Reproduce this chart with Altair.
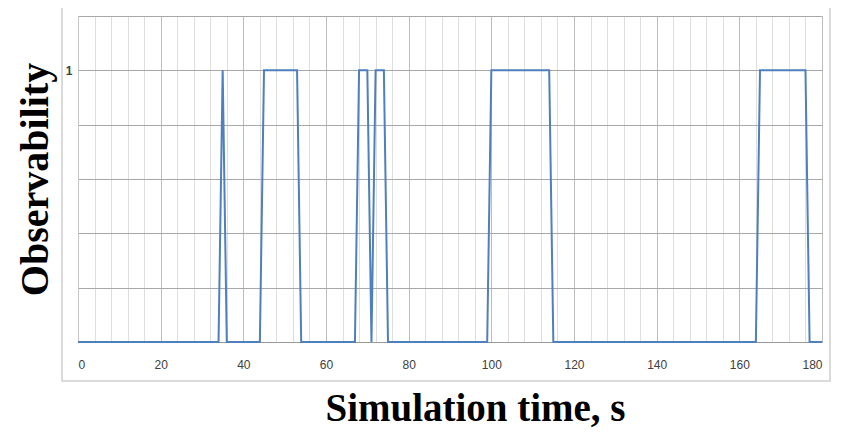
import altair as alt
import pandas as pd

# Data
time_s = [0, 34, 35, 36, 44, 45, 53, 54, 67, 68, 70, 71, 72, 74, 75,
          99, 100, 114, 115, 164, 165, 176, 177, 180]
observability = [0, 0, 1, 0, 0, 1, 1, 0, 0, 1, 1, 0, 1, 1, 0,
                 0, 1, 1, 0, 0, 1, 1, 0, 0]
x_grid = list(range(0, 181, 4))
y_grid = [0, 0.2, 0.4, 0.6, 0.8, 1.0, 1.2]

df = pd.DataFrame({"t": time_s, "obs": observability})

x_axis = alt.Axis(
    values=x_grid,
    labelExpr="datum.value % 20 === 0 ? datum.label : ''",
    grid=True,
    gridColor={"condition": {"test": "datum.value % 20 === 0", "value": "#bdbdbd"},
               "value": "#dedede"},
    gridWidth=1,
    ticks=False,
    labelPadding=17,
    labelFont="Liberation Sans",
    labelFontSize=12,
    labelColor="#404040",
    domainColor="#9a9a9a",
    title="Simulation time, s",
    titleFont="Liberation Serif",
    titleFontSize=39,
    titleFontWeight="bold",
    titleColor="#000000",
    titlePadding=19,
    titleX=397,
    titleAlign="center",
)

y_axis = alt.Axis(
    values=y_grid,
    labelExpr="datum.value === 1 ? '1' : ''",
    grid=True,
    gridColor="#a8a8a8",
    gridWidth=1,
    ticks=False,
    labelPadding=6,
    labelFont="Liberation Sans",
    labelFontSize=12,
    labelFontWeight="bold",
    labelColor="#404040",
    domainColor="#c8c8c8",
    title="Observability",
    titleFont="Liberation Serif",
    titleFontSize=40,
    titleFontWeight="bold",
    titleColor="#000000",
    titlePadding=10,
)

line = alt.Chart(df).mark_line(color="#4f7fbc", strokeWidth=2).encode(
    x=alt.X("t:Q", scale=alt.Scale(domain=[0, 180], nice=False), axis=x_axis),
    y=alt.Y("obs:Q", scale=alt.Scale(domain=[0, 1.2], nice=False), axis=y_axis),
)

frame = alt.Chart(pd.DataFrame({"a": [0]})).mark_rect(
    fill=None, stroke="#d0d0d0", strokeWidth=1.5
).encode(
    x=alt.value(-16), x2=alt.value(752), y=alt.value(-13), y2=alt.value(365)
)

chart = alt.layer(frame, line).properties(
    width=744,
    height=326,
    autosize=alt.AutoSizeParams(type="none"),
    padding={"left": 70, "top": 8, "right": 10, "bottom": 88},
    background="white",
).configure_view(strokeWidth=0)

chart.save("out.html", embed_options={"renderer": "svg", "actions": False})
